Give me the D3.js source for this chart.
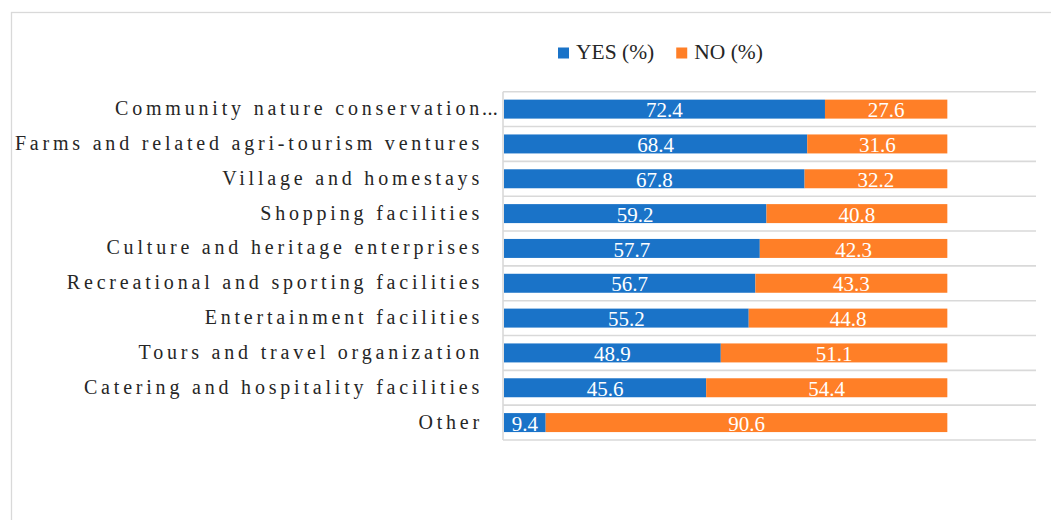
<!DOCTYPE html>
<html>
<head>
<meta charset="utf-8">
<script src="https://cdn.jsdelivr.net/npm/d3@7"></script>
<style>
  html, body { margin: 0; padding: 0; background: #fff; }
  svg { display: block; }
</style>
</head>
<body>
<svg id="chart" width="1051" height="520"></svg>
<script>
// Categories, top to bottom
const categories = [
  "Community nature conservation...",
  "Farms and related agri-tourism ventures",
  "Village and homestays",
  "Shopping facilities",
  "Culture and heritage enterprises",
  "Recreational and sporting facilities",
  "Entertainment facilities",
  "Tours and travel organization",
  "Catering and hospitality facilities",
  "Other"
];
const yesValues = [72.4, 68.4, 67.8, 59.2, 57.7, 56.7, 55.2, 48.9, 45.6, 9.4];
const noValues  = [27.6, 31.6, 32.2, 40.8, 42.3, 43.3, 44.8, 51.1, 54.4, 90.6];
const seriesNames = ["YES (%)", "NO (%)"];
const seriesColors = ["#1a73c8", "#ff7f27"];

const svg = d3.select("#chart");
const serif = "'Liberation Serif', 'Times New Roman', serif";
const gridColor = "#d9d9d9";

// outer chart frame
svg.append("rect")
  .attr("x", 11.5).attr("y", 12.5)
  .attr("width", 1200).attr("height", 700)
  .attr("fill", "none").attr("stroke", gridColor).attr("stroke-width", 1.3);

const x = d3.scaleLinear().domain([0, 120]).range([504, 1036]);
const y = d3.scaleBand().domain(categories).range([91.7, 440])
  .paddingInner(0.455).paddingOuter(0.2275);

const rows = categories.map((c, i) => ({ cat: c, yes: yesValues[i], no: noValues[i] }));
const stack = d3.stack().keys(["yes", "no"])(rows);

// category separators
const step = y.step();
const bounds = d3.range(categories.length + 1).map(i => y.range()[0] + i * step);
svg.append("g").selectAll("line").data(bounds).join("line")
  .attr("x1", x(0) - 1).attr("x2", x(120))
  .attr("y1", d => d).attr("y2", d => d)
  .attr("stroke", gridColor).attr("stroke-width", 1.6);

// category axis line
svg.append("line")
  .attr("x1", x(0) - 1).attr("x2", x(0) - 1)
  .attr("y1", bounds[0]).attr("y2", bounds[bounds.length - 1])
  .attr("stroke", gridColor).attr("stroke-width", 1.6);

// stacked bars
const layers = svg.append("g").selectAll("g").data(stack).join("g")
  .attr("fill", (d, i) => seriesColors[i]);
layers.selectAll("rect").data(d => d).join("rect")
  .attr("x", d => x(d[0]))
  .attr("width", d => x(d[1]) - x(d[0]))
  .attr("y", d => y(d.data.cat))
  .attr("height", y.bandwidth());

// value labels
layers.selectAll("text").data(d => d.map(v => ({ v, key: d.key }))).join("text")
  .attr("x", d => (x(d.v[0]) + x(d.v[1])) / 2)
  .attr("y", d => y(d.v.data.cat) + y.bandwidth() - 1.3)
  .attr("text-anchor", "middle")
  .attr("fill", "#ffffff")
  .attr("font-family", serif)
  .attr("font-size", 21)
  .text(d => d3.format(".1f")(d.v.data[d.key]));

// category labels (trailing letter-spacing is counted in the end anchor)
const labelEnd = 483;
const spacing = 3.8;
const labels = svg.append("g").selectAll("g").data(categories).join("g")
  .attr("transform", d => `translate(0,${y(d) + y.bandwidth() / 2})`);
labels.append("text")
  .attr("x", labelEnd)
  .attr("y", 6)
  .attr("text-anchor", "end")
  .attr("fill", "#262626")
  .attr("font-family", serif)
  .attr("font-size", 20)
  .style("letter-spacing", spacing + "px")
  .text(d => d.endsWith("...") ? d.slice(0, -3) : d);
labels.filter(d => d.endsWith("...")).append("text")
  .attr("x", labelEnd - 1)
  .attr("y", 6)
  .attr("fill", "#262626")
  .attr("font-family", serif)
  .attr("font-size", 20)
  .style("letter-spacing", "0.4px")
  .text("...");

// legend
const legend = svg.append("g").attr("transform", "translate(558,0)");
let lx = 0;
seriesNames.forEach((name, i) => {
  legend.append("rect").attr("x", lx).attr("y", 47.5)
    .attr("width", 11).attr("height", 11).attr("fill", seriesColors[i]);
  const t = legend.append("text").attr("x", lx + 18).attr("y", 59)
    .attr("fill", "#262626").attr("font-family", serif).attr("font-size", 21.5)
    .text(name);
  lx += 18 + t.node().getComputedTextLength() + 22;
});
</script>
</body>
</html>
